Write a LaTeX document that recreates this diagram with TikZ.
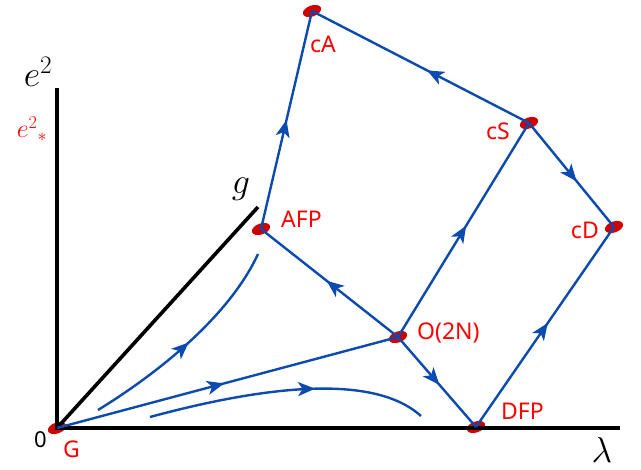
\RequirePackage{fix-cm}
\documentclass[tikz,border=0pt]{standalone}
\usepackage{fontspec}
\setsansfont{Noto Sans}
\usetikzlibrary{arrows.meta,decorations.markings,shapes.geometric}
\definecolor{flowblue}{HTML}{0B4AAE}
\definecolor{fpred}{HTML}{D00000}
\definecolor{labred}{HTML}{FF0000}
\tikzset{
  fp/.style={ellipse,fill=fpred,draw=none,minimum width=19pt,minimum height=11pt,inner sep=0pt,rotate=20},
  axis/.style={line width=3.6pt,black},
  flow/.style={line width=2.4pt,flowblue},
  midarrow/.style={postaction={decorate},decoration={markings,mark=at position #1 with {\arrow[flowblue]{Stealth[length=17pt,width=14pt,inset=4.5pt]}}}},
  lab/.style={text=labred,font=\sffamily\fontsize{23}{25}\selectfont,inner sep=0pt},
  mathlab/.style={inner sep=0pt,font=\fontsize{36}{40}\selectfont}
}
\begin{document}
\begin{tikzpicture}[x=1pt,y=-1pt]
\useasboundingbox (0,0) rectangle (641,470);
% axes
\coordinate (ytop) at (57,88);
\coordinate (xend) at (620,428);
\coordinate (gend) at (258,207);
% fixed points
\node[fp] (G) at (57,428) {};
\node[fp] (DFP) at (476,427) {};
\node[fp] (O) at (398,337) {};
\node[fp] (AFP) at (261,229) {};
\node[fp] (cA) at (312,11) {};
\node[fp] (cS) at (529,123) {};
\node[fp] (cD) at (614,227) {};
\draw[axis] (ytop) -- (G.center) -- (xend);
\draw[axis] (G.center) -- (gend);
% flows
\draw[flow,midarrow=0.5] (AFP.center) -- (cA.center);
\draw[flow,midarrow=0.47] (cS.center) -- (cA.center);
\draw[flow,midarrow=0.56] (cS.center) -- (cD.center);
\draw[flow,midarrow=0.52] (DFP.center) -- (cD.center);
\draw[flow,midarrow=0.52] (O.center) -- (cS.center);
\draw[flow,midarrow=0.52] (O.center) -- (AFP.center);
\draw[flow,midarrow=0.53] (O.center) -- (DFP.center);
\draw[flow,midarrow=0.49] (G.center) -- (O.center);
\coordinate (c1s) at (98,410);
\coordinate (c1e) at (258,254);
\draw[flow,midarrow=0.5] (c1s) .. controls (160,372) and (230,315) .. (c1e);
\coordinate (c2s) at (150,417);
\coordinate (c2e) at (421,416);
\draw[flow,midarrow=0.6] (c2s) .. controls (250,390) and (370,370) .. (c2e);
% fixed point labels
\node[lab,anchor=west] (lG) at (63,449) {G};
\node[lab,anchor=west] (lAFP) at (281,219) {AFP};
\node[lab,anchor=west] (lcA) at (310,44) {cA};
\node[lab,anchor=east] (lcS) at (510,131) {cS};
\node[lab,anchor=east] (lcD) at (599,230) {cD};
\node[lab,anchor=west] (lO) at (417,333) {O(2N)};
\node[lab,anchor=west] (lDFP) at (501,411) {DFP};
% axis labels
\node[inner sep=0pt,font=\sffamily\fontsize{22}{24}\selectfont,anchor=east] (zero) at (47,440) {0};
\node[mathlab] (le) at (38,72) {$e^2$};
\node[mathlab] (lg) at (241,189) {$g$};
\node[mathlab] (llam) at (602,450) {$\lambda$};
\node[inner sep=0pt,text=labred,font=\fontsize{26}{28}\selectfont] (lestar) at (32,129) {$e^2{}_{\ast}$};
\end{tikzpicture}
\end{document}
